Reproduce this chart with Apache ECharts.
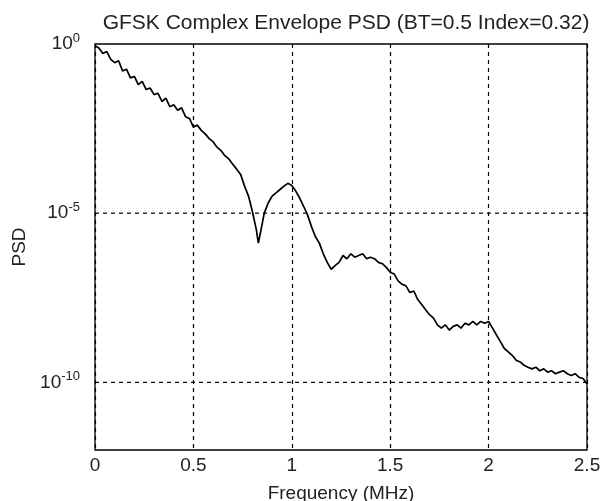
<!DOCTYPE html>
<html>
<head>
<meta charset="utf-8">
<script src="https://cdn.jsdelivr.net/npm/echarts@6/dist/echarts.min.js"></script>
<style>
html,body{margin:0;padding:0;background:#fff;}
#chart{width:602px;height:501px;}
</style>
</head>
<body>
<div id="chart"></div>
<script>
var titleText = 'GFSK Complex Envelope PSD (BT=0.5 Index=0.32)';
var xLabel = 'Frequency (MHz)';
var yLabel = 'PSD';
var xTicks = [0, 0.5, 1, 1.5, 2, 2.5];
var yTickExponents = [0, -5, -10];

var freq = [
0.00,0.02,0.04,0.06,0.08,0.10,0.12,0.14,0.16,0.18,
0.20,0.22,0.24,0.26,0.28,0.30,0.32,0.34,0.36,0.38,
0.40,0.42,0.44,0.46,0.48,0.50,0.52,0.54,0.56,0.58,
0.60,0.62,0.64,0.66,0.68,0.70,0.72,0.74,0.76,0.78,
0.80,0.82,0.83,0.84,0.86,0.88,0.90,0.92,0.94,0.96,0.98,
1.00,1.02,1.04,1.06,1.08,1.10,1.12,1.14,1.16,1.18,
1.20,1.22,1.24,1.26,1.28,1.30,1.32,1.34,1.36,1.38,
1.40,1.42,1.44,1.46,1.48,1.50,1.52,1.54,1.56,1.58,
1.60,1.62,1.64,1.66,1.68,1.70,1.72,1.74,1.76,1.78,
1.80,1.82,1.84,1.86,1.88,1.90,1.92,1.94,1.96,1.98,
2.00,2.02,2.04,2.06,2.08,2.10,2.12,2.14,2.16,2.18,
2.20,2.22,2.24,2.26,2.28,2.30,2.32,2.34,2.36,2.38,
2.40,2.42,2.44,2.46,2.48,2.50
];

var psd = [
8.9e-1,7.6e-1,5.2e-1,6.0e-1,3.5e-1,2.8e-1,3.2e-1,1.6e-1,1.8e-1,1.0e-1,
1.1e-1,6.3e-2,7.9e-2,4.5e-2,5.0e-2,3.2e-2,3.5e-2,2.0e-2,2.5e-2,1.4e-2,
1.6e-2,1.1e-2,1.3e-2,7.1e-3,6.3e-3,3.5e-3,4.0e-3,2.8e-3,2.2e-3,1.6e-3,
1.3e-3,8.9e-4,7.1e-4,5.0e-4,4.0e-4,2.8e-4,2.0e-4,1.4e-4,6.3e-5,3.2e-5,
1.1e-5,3.2e-6,1.3e-6,2.5e-6,1.0e-5,2.0e-5,3.2e-5,4.0e-5,5.0e-5,6.3e-5,7.6e-5,
6.6e-5,4.5e-5,2.8e-5,1.6e-5,8.9e-6,4.0e-6,2.0e-6,1.3e-6,6.3e-7,3.5e-7,
2.2e-7,2.8e-7,3.5e-7,5.6e-7,4.5e-7,6.3e-7,5.0e-7,5.6e-7,6.3e-7,4.5e-7,
5.0e-7,4.5e-7,3.5e-7,3.2e-7,2.5e-7,1.8e-7,1.6e-7,1.0e-7,7.9e-8,7.1e-8,
4.5e-8,5.0e-8,2.8e-8,2.0e-8,1.4e-8,1.0e-8,7.9e-9,5.0e-9,4.0e-9,5.0e-9,
3.5e-9,4.5e-9,5.0e-9,4.0e-9,5.6e-9,5.0e-9,6.3e-9,5.0e-9,6.3e-9,5.6e-9,
6.3e-9,4.0e-9,2.5e-9,1.6e-9,1.0e-9,7.9e-10,6.3e-10,4.5e-10,4.0e-10,3.2e-10,
2.8e-10,2.5e-10,2.8e-10,2.2e-10,2.5e-10,2.0e-10,2.2e-10,1.8e-10,2.0e-10,2.2e-10,
1.8e-10,1.6e-10,1.8e-10,1.4e-10,1.3e-10,8.9e-11
];

var seriesData = freq.map(function (f, i) { return [f, psd[i]]; });
var xMin = xTicks[0], xMax = xTicks[xTicks.length - 1];

var gridSeries = yTickExponents.filter(function (e) { return e !== 0; }).map(function (e) {
  return {
    type: 'line', silent: true, showSymbol: false, z: 1,
    data: [[xMin, Math.pow(10, e)], [xMax, Math.pow(10, e)]],
    lineStyle: { color: '#000', type: [4, 4], width: 1.2 }
  };
});

var chart = echarts.init(document.getElementById('chart'), null, { renderer: 'canvas' });
var FONT = 'Liberation Sans, Arial, sans-serif';
chart.setOption({
  animation: false,
  backgroundColor: '#ffffff',
  title: {
    text: titleText,
    left: 341, top: 8, textAlign: 'center',
    textStyle: { fontFamily: FONT, fontSize: 21, fontWeight: 'normal', color: '#222' }
  },
  grid: {
    left: 95, right: 15, top: 44, bottom: 51,
    outerBoundsMode: 'none', containLabel: false,
    show: true, borderColor: '#000', borderWidth: 1.3, backgroundColor: '#fff', z: 0
  },
  xAxis: {
    type: 'value', min: xMin, max: xMax, interval: 0.5,
    name: xLabel, nameLocation: 'middle', nameGap: 34,
    nameTextStyle: { fontFamily: FONT, fontSize: 19, color: '#222' },
    axisLine: { show: false },
    axisTick: { show: false },
    axisLabel: { fontFamily: FONT, fontSize: 19, color: '#222', margin: 6,
      formatter: function (v) { return xTicks.indexOf(v) >= 0 ? String(v) : ''; } },
    splitLine: { show: true, lineStyle: { color: '#000', type: [4, 4], width: 1.2 } }
  },
  yAxis: {
    type: 'log', logBase: 10, min: 1e-12, max: 1, interval: 1,
    name: yLabel, nameLocation: 'middle', nameGap: 55, nameRotate: 90,
    nameTextStyle: { fontFamily: FONT, fontSize: 19, color: '#222' },
    axisLine: { show: false },
    axisTick: { show: false },
    splitLine: { show: false },
    axisLabel: {
      margin: 15,
      formatter: function (v) {
        var e = Math.round(Math.log10(v));
        if (yTickExponents.indexOf(e) < 0) return '';
        return '{b|10}{s|' + e + '}';
      },
      rich: {
        b: { fontFamily: FONT, fontSize: 19, color: '#222' },
        s: { fontFamily: FONT, fontSize: 13, color: '#222', verticalAlign: 'top', padding: [0, 0, 12, 0] }
      }
    }
  },
  series: gridSeries.concat([{
    type: 'line',
    data: seriesData,
    showSymbol: false,
    z: 3,
    lineStyle: { color: '#000', width: 1.7 }
  }])
});
</script>
</body>
</html>
